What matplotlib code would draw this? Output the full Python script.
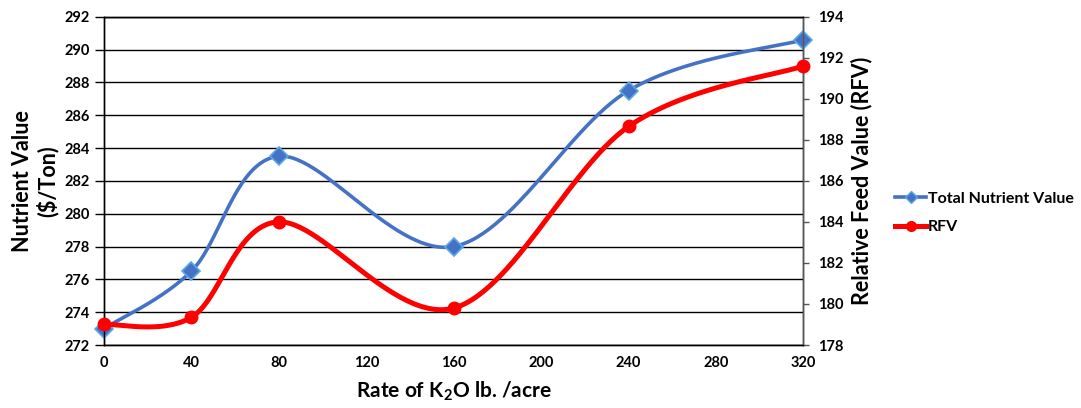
import numpy as np
import matplotlib
matplotlib.use("Agg")
import matplotlib.pyplot as plt
from matplotlib.lines import Line2D

plt.rcParams['font.family'] = ['Lato', 'DejaVu Sans']

# K2O application rate (lb/acre)
rates = [0, 40, 80, 160, 240, 320]
# Total nutrient value ($/ton), left axis
nutrient_value = [273.0, 276.5, 283.5, 278.0, 287.5, 290.6]
# Relative feed value, right axis
rfv = [179.0, 179.35, 184.0, 179.8, 188.65, 191.6]

x_ticks = [0, 40, 80, 120, 160, 200, 240, 280, 320]
left_ticks = list(range(272, 293, 2))
right_ticks = list(range(178, 195, 2))

BLUE = '#4472C4'
BLUE_EDGE = '#5BA8E6'
RED = '#FF0000'


def smooth(xs, ys, n=60):
    """Catmull-Rom style smoothing through every point (cubic Bezier segments)."""
    xs = np.asarray(xs, float)
    ys = np.asarray(ys, float)
    pts = np.column_stack([xs, ys])
    out = []
    for i in range(len(pts) - 1):
        p0 = pts[i - 1] if i > 0 else pts[i]
        p1 = pts[i]
        p2 = pts[i + 1]
        p3 = pts[i + 2] if i + 2 < len(pts) else pts[i + 1]
        c1 = p1 + (p2 - p0) / 6.0
        c2 = p2 - (p3 - p1) / 6.0
        t = np.linspace(0, 1, n)[:, None]
        seg = ((1 - t) ** 3) * p1 + 3 * ((1 - t) ** 2) * t * c1 + 3 * (1 - t) * t ** 2 * c2 + t ** 3 * p2
        out.append(seg if i == 0 else seg[1:])
    seg = np.vstack(out)
    return seg[:, 0], seg[:, 1]


fig = plt.figure(figsize=(10.81, 4.08), dpi=100)
ax = fig.add_axes([0.0962, 0.1544, 0.7432 - 0.0962, 0.959 - 0.1544])
ax2 = ax.twinx()

ax.set_xlim(0, 320)
ax.set_ylim(272, 292)
ax2.set_ylim(178, 194)

ax.set_xticks(x_ticks)
ax.set_yticks(left_ticks)
ax2.set_yticks(right_ticks)

ax.grid(axis='y', color='black', linewidth=1.0)
ax.set_axisbelow(True)

for a in (ax, ax2):
    for s in a.spines.values():
        s.set_linewidth(1.0)
        s.set_color('black')
ax2.spines['right'].set_color('#555555')

ax.tick_params(axis='x', length=0, pad=8, labelsize=10.5)
ax.tick_params(axis='y', length=6.5, width=1.0, pad=4, labelsize=10.5)
ax2.tick_params(axis='y', length=4.5, width=1.0, color='#555555', pad=6, labelsize=10.5)
for lab in ax.get_xticklabels() + ax.get_yticklabels() + ax2.get_yticklabels():
    lab.set_fontweight('bold')

# Total nutrient value (left axis)
sx, sy = smooth(rates, nutrient_value)
ax.plot(sx, sy, color=BLUE, linewidth=2.6, zorder=3, clip_on=False)
ax.plot(rates, nutrient_value, linestyle='none', marker='D', markersize=9,
        markerfacecolor=BLUE, markeredgecolor=BLUE_EDGE, markeredgewidth=1.2,
        zorder=4, clip_on=False)

# RFV (right axis)
rx, ry = smooth(rates, rfv)
ax2.plot(rx, ry, color=RED, linewidth=3.6, zorder=3, clip_on=False)
ax2.plot(rates, rfv, linestyle='none', marker='o', markersize=9,
         markerfacecolor=RED, markeredgecolor=RED, zorder=4, clip_on=False)

ax.set_xlabel('Rate of K$_\\mathregular{2}$O lb. /acre', fontsize=15, fontweight='bold', labelpad=7)
ax.set_ylabel('Nutrient Value\n($/Ton)', fontsize=15.5, fontweight='bold', labelpad=4,
              linespacing=1.15)
ax2.set_ylabel('Relative Feed Value (RFV)', fontsize=15.5, fontweight='bold', labelpad=5)

handles = [
    Line2D([0], [0], color=BLUE, linewidth=2.6, marker='D', markersize=6,
           markerfacecolor=BLUE, markeredgecolor=BLUE_EDGE),
    Line2D([0], [0], color=RED, linewidth=3.6, marker='o', markersize=7,
           markerfacecolor=RED, markeredgecolor=RED),
]
fig.legend(handles, ['Total Nutrient Value', 'RFV'], loc='center left',
           bbox_to_anchor=(0.815, 0.478), frameon=False, handlelength=1.9,
           handletextpad=0.15, labelspacing=0.9,
           prop={'size': 11.5, 'weight': 'bold'})

fig.savefig('out.png', dpi=100)
